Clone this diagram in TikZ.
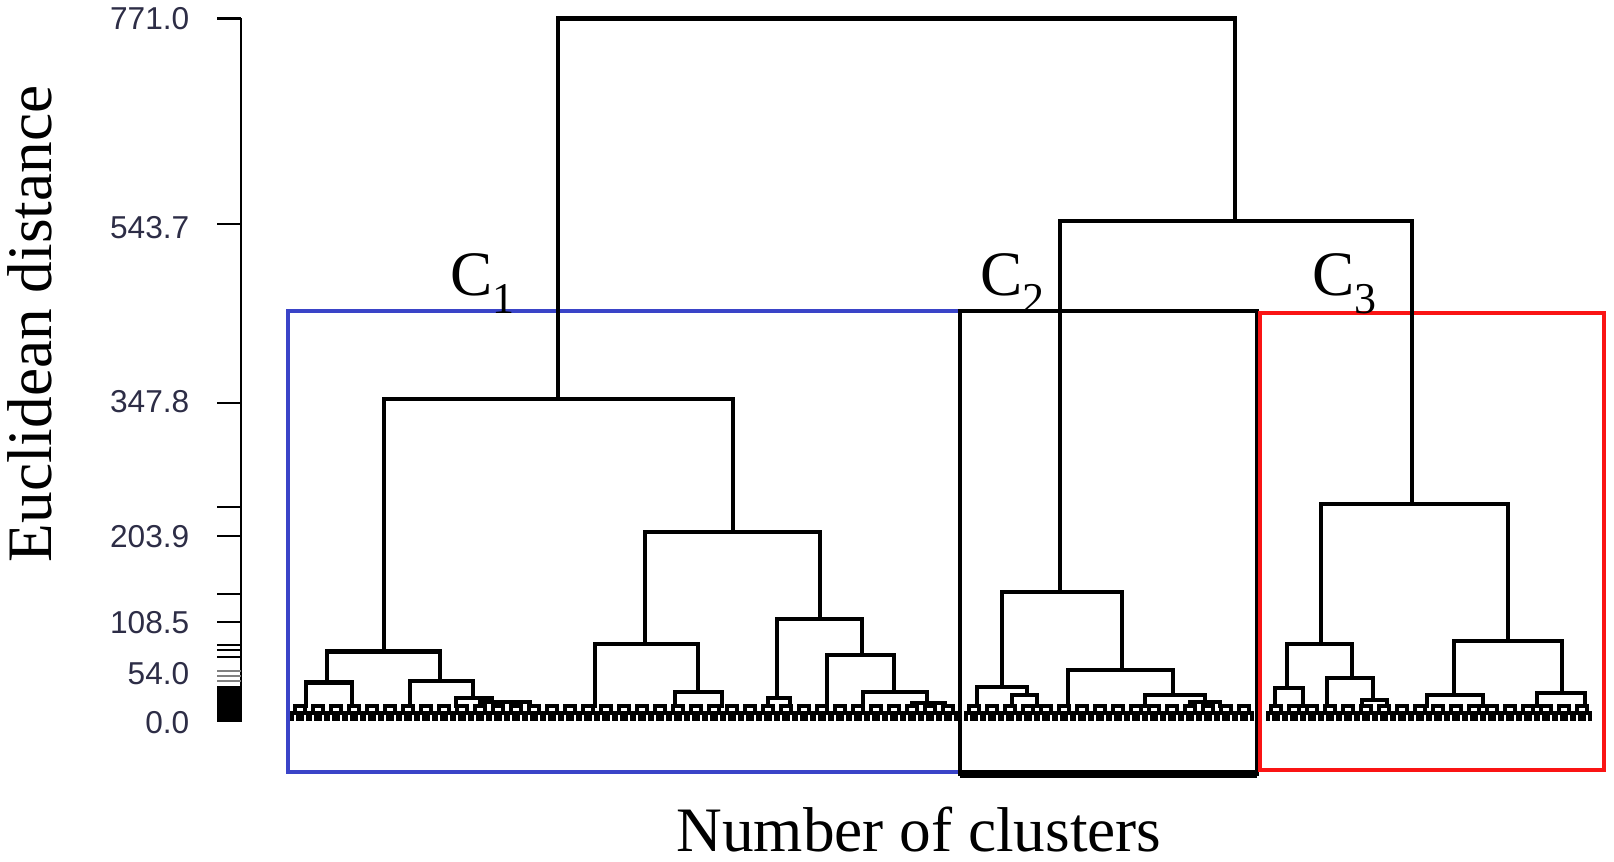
\documentclass[tikz,border=0pt]{standalone}
\usepackage{fontspec}
\setmainfont{Liberation Serif}
\newfontfamily\axisfont{Liberation Sans}

\definecolor{ticktext}{RGB}{45,45,70}
\definecolor{boxblue}{RGB}{58,68,200}
\definecolor{boxred}{RGB}{250,20,20}

\tikzset{
	branch/.style={line width=1.15pt, line cap=rect},
	leaf/.style={line width=0.9pt},
	tickline/.style={line width=0.8pt},
	ticklabel/.style={anchor=east, inner sep=0pt, text=ticktext, font=\axisfont\fontsize{9}{9}\selectfont},
	clusterbox/.style={line width=1.1pt},
	bigtext/.style={font=\fontsize{18}{20}\selectfont, inner sep=0pt}
}

\newcommand{\clab}[1]{C\raisebox{-5pt}{\fontsize{12.5}{12.5}\selectfont #1}}

\begin{document}
\begin{tikzpicture}[x=0.01cm, y=-0.01cm]
			\useasboundingbox (0,0) rectangle (1614,862);
			\def\leafbase{721}
			\def\leaftop{713}
			\def\leafjoin{706}

			% Axis
			\draw[line width=0.8pt] (241,18.5) -- (241,722);
			\foreach \ty in {18.5,224,403,507,536,594,622,645,650,657} {
					\draw[tickline] (217,\ty) -- (241,\ty);
				}
			\foreach \ty in {671,676,681} {
					\draw[tickline, gray] (217,\ty) -- (241,\ty);
				}
			\fill (217,686) rectangle (241,722);

			% Axis labels
			\node[ticklabel] (t771) at (190,18.5) {771.0};
			\node[ticklabel] (t543) at (190,228) {543.7};
			\node[ticklabel] (t347) at (190,402) {347.8};
			\node[ticklabel] (t203) at (190,537) {203.9};
			\node[ticklabel] (t108) at (190,623) {108.5};
			\node[ticklabel] (t54) at (190,674) {54.0};
			\node[ticklabel] (t0) at (190,723) {0.0};

			\node[bigtext, rotate=90] (ylabel) at (30,324) {Euclidean distance};
			\node[bigtext, anchor=base] (xlabel) at (919,852) {Number of clusters};

			% Cluster boxes
			\draw[clusterbox, boxblue] (288,311) rectangle (960,772);
			\draw[clusterbox] (960,311) rectangle (1257,774);
			\draw[line width=2pt] (960,774) -- (1257,774);
			\draw[clusterbox, boxred] (1260,313) rectangle (1604,770);

			\node[bigtext, anchor=base west] (c1) at (450,296) {\clab{1}};
			\node[bigtext, anchor=base west] (c2) at (980,296) {\clab{2}};
			\node[bigtext, anchor=base west] (c3) at (1312,296) {\clab{3}};

			% Leaves
			\foreach \lx in {292,310,...,940,966,984,...,1236,1268,1286,...,1586} {
					\draw[leaf] (\lx,\leafbase) |- (\lx+6,\leaftop) -- (\lx+6,\leafbase);
					\draw[leaf] (\lx+10,\leafbase) |- (\lx+16,\leaftop) -- (\lx+16,\leafbase);
					\draw[leaf] (\lx+3,\leaftop) |- (\lx+13,\leafjoin) -- (\lx+13,\leaftop);
				}

			% Top merges
			\draw[branch] (558,399) |- (1235,18.5) -- (1235,221);
			\draw[branch] (1060,592) |- (1412,221) -- (1412,504);

			% C1
			\draw[branch] (384,651.5) |- (733,399) -- (733,532);
			\draw[branch] (327,682.5) |- (440,651.5) -- (440,681);
			\draw[branch] (306,\leafjoin) |- (352,682.5) -- (352,\leafjoin);
			\draw[branch] (410,\leafjoin) |- (473,681) -- (473,698);
			\draw[branch] (456,\leafjoin) |- (492,698) -- (492,702);
			\draw[branch] (480,\leafjoin) |- (530,702) -- (530,\leafjoin);
			\draw[branch] (645,644) |- (820,532) -- (820,619);
			\draw[branch] (595,\leafjoin) |- (698,644) -- (698,692);
			\draw[branch] (675,\leafjoin) |- (722,692) -- (722,\leafjoin);
			\draw[branch] (777,698) |- (862,619) -- (862,655);
			\draw[branch] (768,\leafjoin) |- (790,698) -- (790,\leafjoin);
			\draw[branch] (827,\leafjoin) |- (894,655) -- (894,692);
			\draw[branch] (863,\leafjoin) |- (927,692) -- (927,703);
			\draw[branch] (912,\leafjoin) |- (945,703) -- (945,\leafjoin);

			% C2
			\draw[branch] (1002,687) |- (1122,592) -- (1122,670);
			\draw[branch] (977,\leafjoin) |- (1027,687) -- (1027,695);
			\draw[branch] (1012,\leafjoin) |- (1037,695) -- (1037,\leafjoin);
			\draw[branch] (1068,\leafjoin) |- (1173,670) -- (1173,695);
			\draw[branch] (1145,\leafjoin) |- (1205,695) -- (1205,702);
			\draw[branch] (1190,\leafjoin) |- (1220,702) -- (1220,\leafjoin);

			% C3
			\draw[branch] (1321,644) |- (1508,504) -- (1508,641);
			\draw[branch] (1287,688) |- (1352,644) -- (1352,678);
			\draw[branch] (1275,\leafjoin) |- (1303,688) -- (1303,\leafjoin);
			\draw[branch] (1327,\leafjoin) |- (1373,678) -- (1373,700);
			\draw[branch] (1362,\leafjoin) |- (1387,700) -- (1387,\leafjoin);
			\draw[branch] (1454,695) |- (1562,641) -- (1562,693);
			\draw[branch] (1427,\leafjoin) |- (1483,695) -- (1483,\leafjoin);
			\draw[branch] (1537,\leafjoin) |- (1585,693) -- (1585,\leafjoin);

		\end{tikzpicture}
\end{document}
